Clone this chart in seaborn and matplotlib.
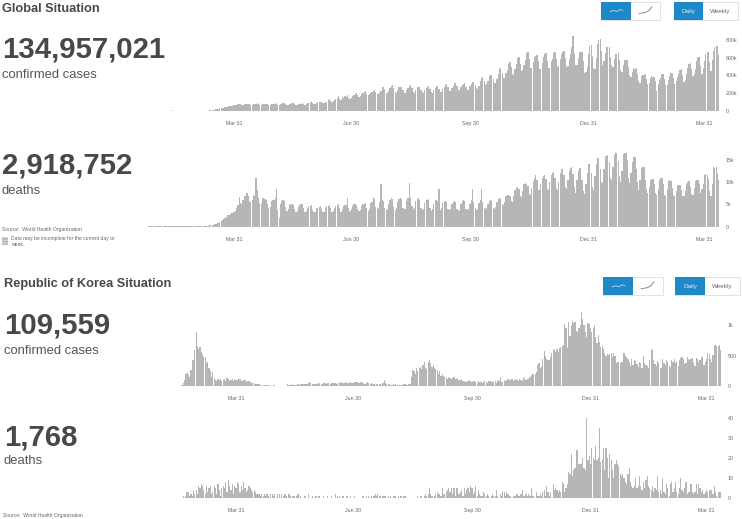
import matplotlib
matplotlib.use("Agg")
import matplotlib.pyplot as plt
import matplotlib.patches as patches
import seaborn as sns

# daily values, one row per week, first day is 2020-01-03
global_cases_k = [
    0, 0, 0, 0, 0, 0, 0,
    0, 0, 0, 0, 0, 0, 0,
    0, 0, 0, 0, 0, 0.5, 0.5,
    0.5, 1, 1, 1, 1, 2, 2,
    2, 3, 3, 3, 4, 3, 3,
    3, 3, 3, 2, 2, 15, 5,
    3, 2, 2, 2, 2, 1, 1,
    1, 1, 1, 1, 1, 1, 1,
    2, 2, 2, 2, 2, 3, 2,
    3, 3, 3, 4, 4, 5, 8,
    10, 11, 14, 14, 17, 20, 25,
    30, 33, 36, 36, 40, 45, 48,
    52, 55, 60, 58, 62, 68, 72,
    76, 78, 76, 70, 70, 76, 80,
    82, 84, 80, 72, 72, 78, 80,
    82, 85, 78, 70, 70, 74, 78,
    80, 84, 82, 72, 68, 76, 80,
    82, 86, 80, 72, 72, 78, 84,
    86, 88, 80, 70, 72, 78, 82,
    86, 90, 76, 72, 70, 76, 80,
    82, 92, 82, 72, 76, 85, 92,
    96, 100, 88, 78, 84, 90, 96,
    100, 104, 100, 86, 92, 100, 106,
    120, 130, 118, 106, 112, 122, 135,
    150, 170, 140, 125, 160, 150, 165,
    160, 175, 150, 135, 150, 170, 180,
    190, 200, 185, 160, 170, 190, 205,
    215, 220, 195, 175, 190, 200, 215,
    228, 237, 215, 190, 186, 205, 226,
    265, 275, 248, 205, 200, 228, 255,
    285, 293, 262, 215, 205, 240, 270,
    268, 275, 240, 205, 200, 235, 262,
    280, 290, 258, 215, 205, 240, 268,
    268, 275, 240, 210, 205, 232, 255,
    270, 278, 245, 212, 208, 238, 262,
    280, 286, 250, 215, 212, 245, 268,
    296, 305, 265, 225, 222, 255, 285,
    312, 320, 280, 238, 235, 270, 298,
    305, 316, 275, 240, 235, 280, 300,
    322, 330, 290, 255, 250, 285, 340,
    375, 387, 340, 295, 300, 340, 395,
    402, 410, 365, 310, 320, 365, 420,
    470, 485, 430, 370, 370, 425, 465,
    535, 550, 490, 420, 410, 475, 530,
    595, 605, 530, 455, 460, 515, 580,
    650, 660, 590, 480, 480, 550, 610,
    620, 630, 560, 470, 470, 545, 610,
    640, 650, 560, 480, 480, 560, 590,
    650, 660, 590, 490, 510, 585, 640,
    670, 680, 600, 490, 510, 585, 640,
    725, 845, 640, 520, 520, 600, 660,
    660, 670, 560, 430, 440, 500, 640,
    735, 745, 620, 480, 470, 600, 760,
    800, 808, 680, 520, 560, 650, 720,
    720, 725, 610, 520, 500, 590, 640,
    640, 650, 570, 460, 440, 520, 570,
    570, 580, 500, 410, 380, 440, 480,
    475, 480, 420, 340, 310, 390, 410,
    410, 415, 360, 300, 310, 370, 395,
    380, 385, 340, 220, 300, 350, 375,
    415, 420, 360, 290, 290, 350, 395,
    425, 430, 370, 300, 340, 380, 420,
    460, 470, 405, 330, 345, 420, 480,
    530, 537, 470, 390, 420, 470, 560,
    605, 612, 510, 420, 480, 560, 640,
    665, 670, 555, 445, 580, 680, 720,
    730, 737, 635,
]

global_deaths_k = [
    0, 0, 0, 0, 0, 0, 0,
    0, 0, 0, 0, 0, 0, 0,
    0, 0, 0, 0.02, 0.02, 0.03, 0.03,
    0.04, 0.05, 0.05, 0.05, 0.06, 0.06, 0.08,
    0.09, 0.1, 0.1, 0.1, 0.07, 0.08, 0.09,
    0.1, 0.09, 0.1, 0.1, 0.1, 0.12, 0.1,
    0.1, 0.1, 0.1, 0.08, 0.1, 0.07, 0.08,
    0.07, 0.06, 0.07, 0.06, 0.05, 0.06, 0.07,
    0.06, 0.07, 0.09, 0.07, 0.08, 0.1, 0.1,
    0.1, 0.12, 0.15, 0.17, 0.19, 0.26, 0.33,
    0.38, 0.43, 0.48, 0.56, 0.64, 0.78, 0.9,
    1.1, 1.25, 1.5, 1.65, 1.9, 2.2, 2.6,
    2.7, 2.95, 3.1, 3.0, 3.3, 3.6, 4.2,
    4.8, 6.7, 5.4, 5.0, 6.0, 7.0, 6.8,
    7.5, 7.0, 5.8, 5.5, 6.0, 7.2, 7.0,
    11.0, 8.2, 6.5, 5.3, 5.1, 6.5, 6.4,
    6.3, 6.0, 5.0, 4.3, 4.5, 5.8, 6.0,
    6.1, 6.4, 8.4, 3.8, 1.9, 5.0, 5.8,
    6.1, 5.8, 4.5, 3.6, 3.9, 5.1, 4.9,
    5.0, 4.8, 4.0, 3.3, 3.5, 4.4, 4.8,
    5.0, 5.1, 4.3, 3.4, 3.6, 4.3, 4.6,
    4.6, 4.8, 3.8, 3.2, 3.4, 4.1, 4.3,
    4.4, 4.6, 3.9, 3.3, 3.2, 4.2, 4.6,
    4.7, 4.9, 4.1, 3.3, 3.5, 4.3, 4.7,
    4.8, 5.0, 4.1, 3.4, 4.0, 4.6, 4.8,
    4.9, 6.5, 4.2, 3.5, 3.9, 4.7, 5.0,
    5.1, 4.9, 4.0, 3.5, 3.7, 4.6, 5.0,
    5.1, 5.3, 4.3, 3.6, 3.9, 5.4, 5.6,
    6.7, 6.3, 4.5, 3.9, 4.1, 5.5, 9.6,
    6.0, 5.8, 4.2, 3.7, 4.0, 5.2, 6.0,
    6.5, 6.2, 4.4, 3.8, 4.1, 5.6, 6.3,
    6.5, 6.3, 4.3, 3.9, 4.0, 5.8, 6.4,
    9.9, 6.4, 4.6, 4.0, 4.2, 5.7, 6.3,
    6.4, 6.0, 4.2, 3.7, 4.0, 5.4, 6.1,
    6.2, 5.9, 4.1, 3.6, 3.9, 5.2, 6.0,
    6.1, 5.8, 8.5, 3.8, 4.1, 5.3, 5.7,
    5.8, 5.5, 4.0, 3.7, 3.9, 5.0, 5.6,
    5.8, 5.6, 3.9, 3.6, 3.8, 5.0, 5.7,
    6.1, 5.7, 4.0, 3.7, 3.9, 5.2, 5.9,
    8.5, 5.6, 4.1, 3.8, 4.0, 5.3, 5.9,
    8.4, 5.5, 4.2, 3.9, 4.1, 5.2, 5.7,
    6.0, 5.8, 4.3, 4.0, 4.4, 5.6, 6.2,
    6.4, 6.3, 5.0, 4.9, 5.5, 6.8, 7.2,
    7.1, 7.0, 5.8, 5.6, 6.8, 8.2, 8.8,
    9.0, 8.5, 6.8, 6.7, 8.0, 9.5, 9.8,
    9.7, 9.2, 7.3, 7.2, 8.8, 10.2, 11.0,
    11.6, 10.5, 8.3, 8.2, 9.6, 11.0, 11.5,
    11.6, 10.8, 8.4, 8.2, 10.0, 11.6, 12.0,
    12.2, 11.0, 8.6, 8.2, 10.0, 12.0, 13.0,
    13.0, 11.6, 9.0, 8.4, 10.5, 12.6, 13.2,
    13.4, 11.8, 9.0, 7.6, 10.5, 12.5, 13.1,
    13.1, 10.6, 8.0, 7.4, 9.5, 12.0, 14.0,
    14.0, 12.0, 9.0, 8.2, 11.5, 14.2, 15.4,
    15.5, 13.0, 10.0, 9.8, 13.0, 15.8, 16.0,
    16.1, 14.5, 11.0, 10.5, 13.5, 16.2, 16.5,
    16.5, 14.8, 11.5, 10.0, 12.5, 16.3, 16.5,
    16.5, 15.0, 11.0, 9.8, 12.0, 14.5, 15.7,
    15.7, 13.0, 10.0, 8.3, 10.5, 13.2, 13.4,
    13.5, 10.5, 8.5, 7.6, 9.0, 10.5, 10.8,
    10.7, 9.5, 7.6, 7.2, 8.5, 10.4, 11.0,
    11.0, 9.5, 7.2, 7.0, 8.5, 10.2, 10.5,
    10.3, 8.8, 7.2, 6.9, 8.0, 9.3, 9.4,
    9.4, 8.2, 7.0, 6.8, 8.0, 9.5, 10.0,
    10.3, 9.0, 7.4, 7.2, 8.8, 10.3, 10.5,
    10.5, 9.5, 7.6, 8.5, 9.5, 11.6, 11.8,
    11.6, 10.8, 8.0, 6.8, 9.5, 13.4, 13.3,
    13.4, 12.0, 10.5,
]

korea_cases = [
    0, 0, 0, 0, 0, 0, 0,
    0, 0, 0, 0, 0, 0, 0,
    0, 0, 0, 0, 0, 2, 0,
    1, 2, 1, 0, 3, 2, 0,
    4, 2, 3, 2, 1, 0, 3,
    1, 3, 0, 1, 0, 0, 1,
    0, 0, 3, 2, 20, 50, 100,
    190, 210, 180, 150, 270, 430, 420,
    595, 890, 660, 600, 640, 560, 520,
    470, 480, 380, 400, 300, 240, 150,
    230, 130, 100, 90, 110, 100, 120,
    80, 95, 120, 90, 130, 110, 75,
    100, 120, 80, 110, 95, 105, 120,
    110, 90, 75, 95, 100, 70, 85,
    75, 60, 50, 45, 50, 35, 30,
    35, 25, 20, 20, 15, 15, 10,
    10, 12, 8, 9, 6, 10, 10,
    8, 5, 6, 6, 8, 3, 5,
    5, 5, 25, 20, 15, 20, 25,
    20, 15, 12, 25, 20, 30, 25,
    30, 25, 35, 40, 50, 60, 45,
    40, 35, 30, 40, 45, 35, 50,
    40, 30, 45, 55, 40, 50, 45,
    35, 50, 45, 55, 50, 40, 45,
    50, 60, 50, 45, 55, 65, 50,
    45, 55, 60, 55, 50, 60, 65,
    60, 50, 55, 60, 45, 50, 40,
    45, 60, 50, 35, 50, 25, 35,
    20, 30, 25, 35, 30, 20, 45,
    100, 45, 35, 25, 30, 15, 20,
    25, 20, 30, 18, 22, 20, 15,
    20, 25, 30, 20, 18, 25, 35,
    150, 260, 240, 200, 290, 250, 300,
    310, 280, 340, 390, 300, 280, 400,
    420, 370, 310, 340, 300, 280, 260,
    200, 240, 170, 190, 160, 150, 130,
    120, 140, 125, 110, 130, 145, 120,
    115, 125, 100, 95, 110, 90, 75,
    70, 60, 85, 100, 80, 60, 90,
    75, 65, 55, 80, 60, 70, 50,
    70, 90, 65, 55, 75, 80, 60,
    80, 60, 75, 55, 100, 80, 140,
    70, 60, 90, 100, 80, 110, 95,
    100, 110, 85, 100, 115, 105, 75,
    120, 105, 90, 130, 125, 100, 115,
    110, 140, 185, 195, 200, 190, 230,
    340, 375, 300, 310, 440, 575, 500,
    450, 430, 420, 480, 540, 610, 590,
    560, 600, 550, 620, 640, 660, 680,
    1015, 950, 630, 1050, 820, 1000, 1060,
    1030, 1050, 900, 880, 950, 1000, 1215,
    1100, 1000, 880, 800, 1030, 1020, 950,
    880, 950, 1000, 800, 700, 840, 720,
    640, 660, 600, 540, 500, 530, 510,
    520, 540, 480, 545, 490, 380, 400,
    390, 370, 395, 400, 540, 500, 480,
    440, 400, 320, 440, 350, 430, 410,
    360, 310, 400, 370, 290, 490, 380,
    350, 330, 300, 420, 610, 590, 420,
    360, 330, 410, 370, 300, 290, 440,
    380, 350, 430, 400, 330, 310, 420,
    400, 450, 370, 410, 330, 420, 460,
    470, 450, 360, 380, 470, 440, 430,
    450, 460, 370, 320, 460, 440, 400,
    420, 470, 480, 350, 390, 440, 540,
    530, 450, 400, 510, 675, 670, 660,
    650, 675, 595,
]

korea_deaths = [
    0, 0, 0, 0, 0, 0, 0,
    0, 0, 0, 0, 0, 0, 0,
    0, 0, 0, 0, 0, 0, 0,
    0, 0, 0, 0, 0, 0, 0,
    0, 0, 0, 0, 0, 0, 0,
    0, 0, 0, 0, 0, 0, 0,
    0, 0, 0, 0, 0, 1, 0,
    1, 3, 3, 1, 2, 1, 4,
    2, 4, 2, 6, 5, 7, 6,
    4, 2, 6, 3, 5, 6, 2,
    3, 6, 5, 2, 7, 4, 1,
    5, 6, 5, 8, 3, 9, 6,
    4, 7, 2, 6, 5, 8, 7,
    3, 6, 4, 8, 5, 3, 4,
    6, 5, 4, 3, 4, 3, 2,
    2, 2, 1, 2, 1, 2, 1,
    2, 1, 0, 2, 2, 1, 2,
    0, 2, 0, 2, 2, 0, 1,
    2, 1, 0, 2, 1, 0, 1,
    1, 0, 1, 2, 0, 1, 0,
    0, 1, 1, 0, 2, 0, 0,
    1, 0, 0, 1, 0, 1, 1,
    0, 0, 1, 0, 0, 1, 0,
    0, 1, 0, 0, 2, 0, 1,
    1, 0, 0, 1, 0, 0, 1,
    0, 0, 1, 0, 0, 1, 0,
    0, 0, 0, 0, 1, 1, 0,
    1, 0, 1, 0, 1, 0, 1,
    2, 1, 2, 1, 1, 0, 1,
    1, 1, 0, 1, 0, 1, 0,
    1, 1, 1, 0, 1, 0, 1,
    0, 1, 1, 0, 0, 0, 0,
    0, 0, 0, 0, 0, 1, 0,
    1, 1, 0, 1, 2, 1, 2,
    5, 2, 1, 0, 1, 2, 3,
    2, 2, 1, 5, 2, 2, 3,
    4, 5, 3, 5, 2, 5, 1,
    5, 5, 2, 3, 4, 1, 5,
    2, 4, 5, 3, 6, 5, 2,
    3, 6, 1, 4, 2, 1, 1,
    3, 2, 1, 2, 1, 0, 1,
    2, 1, 1, 4, 1, 0, 2,
    1, 3, 3, 1, 3, 2, 1,
    1, 0, 1, 1, 1, 2, 1,
    1, 2, 4, 1, 1, 2, 1,
    2, 1, 5, 1, 1, 0, 3,
    1, 1, 2, 1, 3, 4, 1,
    6, 3, 1, 3, 0, 7, 4,
    5, 4, 3, 4, 3, 8, 7,
    3, 5, 7, 13, 12, 22, 11,
    14, 15, 24, 24, 17, 17, 17,
    20, 15, 14, 40, 19, 21, 17,
    25, 20, 19, 26, 19, 20, 35,
    18, 19, 25, 14, 25, 20, 10,
    22, 19, 14, 10, 17, 19, 17,
    16, 12, 11, 12, 10, 8, 7,
    12, 15, 8, 6, 5, 6, 10,
    5, 6, 11, 6, 4, 8, 5,
    9, 11, 6, 5, 4, 6, 3,
    5, 4, 11, 3, 4, 2, 10,
    3, 2, 7, 5, 1, 7, 8,
    3, 5, 8, 3, 2, 5, 10,
    4, 3, 5, 8, 2, 3, 3,
    7, 3, 2, 3, 7, 2, 7,
    5, 3, 4, 2, 3, 4, 3,
    4, 4, 4, 2, 6, 3, 1,
    3, 3, 3,
]

date_ticks = [88, 179, 271, 363, 453]
date_labels = ["Mar 31", "Jun 30", "Sep 30", "Dec 31", "Mar 31"]

W, H = 742, 519
BAR = "#b7b5b5"
DARK = "#484848"
MID = "#555555"
TICK = "#666666"
BLUE = "#1f88c9"

sns.set_theme(style="white")
plt.rcParams["font.family"] = ["Liberation Sans", "DejaVu Sans"]

fig = plt.figure(figsize=(W / 100, H / 100), dpi=100)


def panel(values, left, top, base, ymax, yticks, ylabels):
    ax = fig.add_axes([left / W, 1 - base / H, 600 / W, (base - top) / H])
    days = list(range(len(values)))
    sns.barplot(x=days, y=values, native_scale=True, width=0.93, color=BAR,
                linewidth=0, saturation=1, ax=ax)
    ax.set_xlim(-0.5, 465)
    ax.set_ylim(0, ymax)
    ax.set_xticks(date_ticks, date_labels)
    ax.set_yticks(yticks, ylabels)
    ax.yaxis.tick_right()
    ax.tick_params(axis="both", length=0, labelsize=3.8, labelcolor=TICK)
    ax.tick_params(axis="x", pad=7.5)
    ax.tick_params(axis="y", pad=4.3)
    ax.set_xlabel("")
    ax.set_ylabel("")
    ax.patch.set_alpha(0)
    sns.despine(ax=ax, left=True, bottom=True, right=True, top=True)


panel(global_cases_k, 120, 35, 111, 856, [0, 200, 400, 600, 800],
      ["0", "200k", "400k", "600k", "800k"])
panel(global_deaths_k, 120, 150, 226.7, 17.25, [0, 5, 10, 15],
      ["0", "5k", "10k", "15k"])
panel(korea_cases, 122, 310, 386, 1246, [0, 500, 1000], ["0", "500", "1k"])
panel(korea_deaths, 122, 415, 497.5, 41.5, [0, 10, 20, 30, 40],
      ["0", "10", "20", "30", "40"])

# page layer in pixel coordinates for headings and buttons
page = fig.add_axes([0, 0, 1, 1], zorder=5)
page.set_xlim(0, W)
page.set_ylim(H, 0)
page.axis("off")


def label(x, y, s, size, color=MID, weight="normal", ha="left"):
    page.text(x, y, s, fontsize=size, color=color, fontweight=weight,
              ha=ha, va="center")


label(2, 9.5, "Global Situation", 9.2, DARK, "bold")
label(2, 50, "134,957,021", 21.2, DARK, "bold")
label(2, 75.5, "confirmed cases", 9.4)
label(2, 166, "2,918,752", 21.2, DARK, "bold")
label(2, 190.5, "deaths", 9.4)
label(2, 230, "Source:  World Health Organization", 3.6, TICK)
label(11, 238.5, "Data may be incomplete for the current day or", 3.6, TICK)
label(11, 244.5, "week.", 3.6, TICK)
page.add_patch(patches.Rectangle((2, 237), 6, 8, facecolor="#d4d4d4", hatch="......",
                                 edgecolor="#a8a8a8", linewidth=0))

label(4, 284.5, "Republic of Korea Situation", 9.2, DARK, "bold")
label(4, 325, "109,559", 21.2, DARK, "bold")
label(4, 350.5, "confirmed cases", 9.4)
label(4, 437, "1,768", 21.2, DARK, "bold")
label(4, 461.5, "deaths", 9.4)
label(3, 515.5, "Source:  World Health Organization", 3.6, TICK)


def buttons(x0, y0, y1, x1, x2, x3, x4, x5):
    for a, m, b in ((x0, x1, x2), (x3, x4, x5)):
        page.add_patch(patches.Rectangle((a, y0), b - a, y1 - y0, facecolor="white",
                                         edgecolor="#e2e2e2", linewidth=0.7))
        page.add_patch(patches.Rectangle((a, y0), m - a, y1 - y0, facecolor=BLUE,
                                         linewidth=0))
    mid = (y0 + y1) / 2
    page.plot([x0 + 9, x0 + 13, x0 + 16, x0 + 19, x0 + 22], [mid + 1, mid, mid + 1, mid - 1, mid],
              color="#bcdcf0", lw=0.6)
    page.plot([x1 + 8, x1 + 14, x1 + 18, x1 + 21], [mid + 3, mid + 2, mid, mid - 4],
              color="#777777", lw=0.6)
    label((x3 + x4) / 2, mid + 0.5, "Daily", 4.5, "#d8ecf8", ha="center")
    label((x4 + x5) / 2, mid + 0.5, "Weekly", 4.5, "#666666", ha="center")


buttons(601, 1.5, 19.5, 631, 660, 674, 703, 738)
buttons(603, 277, 294.5, 633, 663, 675, 705, 740)

fig.savefig("out.png", dpi=100)
